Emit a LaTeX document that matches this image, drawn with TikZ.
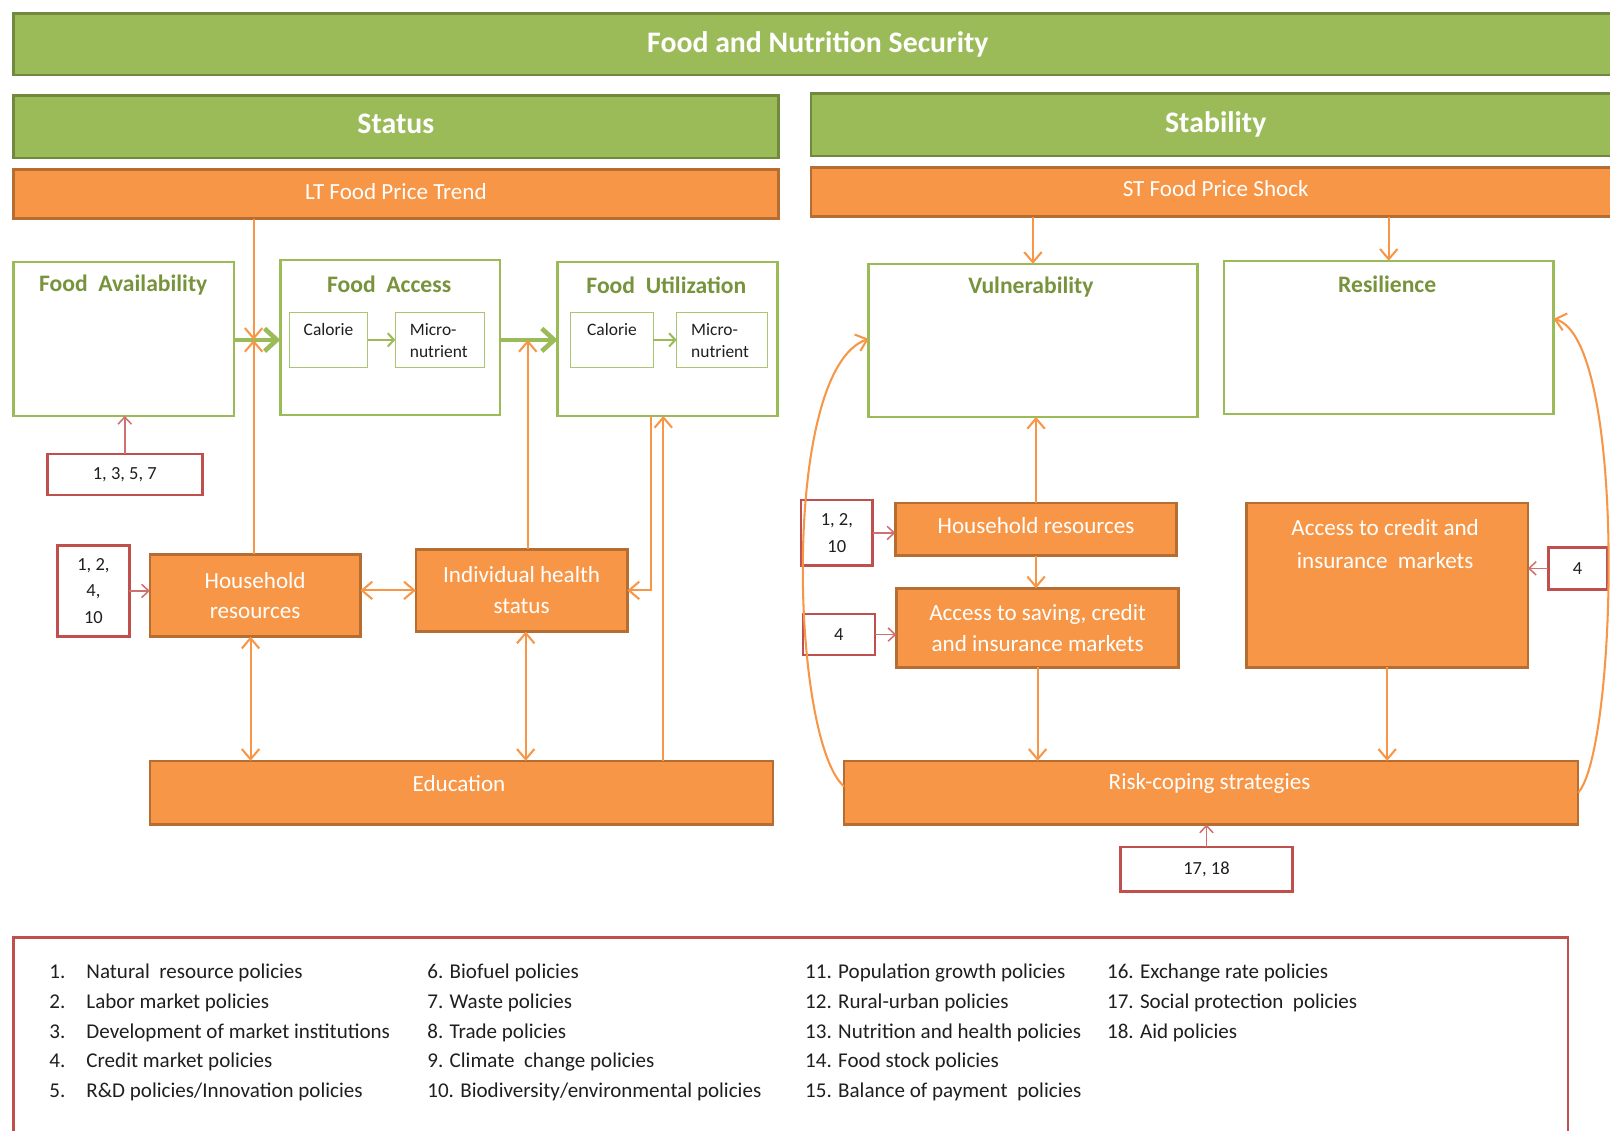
\documentclass[tikz,border=0pt]{standalone}
\usepackage{fontspec}
\setmainfont{Carlito}
\usetikzlibrary{arrows.meta}
\definecolor{gfill}{HTML}{9BBB59}
\definecolor{gdark}{HTML}{71893F}
\definecolor{ofill}{HTML}{F79646}
\definecolor{odark}{HTML}{B66D31}
\definecolor{rbox}{HTML}{C0504D}
\definecolor{gtext}{HTML}{77933C}
\definecolor{rline}{HTML}{D07070}
\definecolor{ink}{HTML}{1F1F1F}
\tikzset{
 box/.style={anchor=north west, inner sep=0pt, outer sep=0pt, rectangle},
 gbar/.style={box, fill=gfill, draw=gdark, line width=2.5pt, text=white, font=\fontsize{29}{34}\selectfont\bfseries},
 obar/.style={box, fill=ofill, draw=odark, line width=2.5pt, text=white, font=\fontsize{22.5}{30}\selectfont, align=center},
 gbox/.style={box, draw=gfill, line width=2.5pt, fill=white},
 ibox/.style={box, draw=gfill!85, line width=1pt, fill=white},
 rbx/.style={box, draw=rbox, line width=2.5pt, fill=white, text=ink, font=\fontsize{18}{26}\selectfont, align=center},
 gtitle/.style={inner sep=0pt, text=gtext, font=\fontsize{23}{28}\selectfont\bfseries},
 otext/.style={inner sep=0pt, text=white, font=\fontsize{22.5}{30}\selectfont, align=center},
 itext/.style={inner sep=0pt, text=ink, font=\fontsize{17}{21}\selectfont, align=left},
 leg/.style={inner sep=0pt, anchor=base west, text=ink, font=\fontsize{20.5}{24}\selectfont},
 oarr/.style={draw=ofill, line width=2pt, -{Straight Barb[length=10pt,width=17pt]}},
 oarrb/.style={draw=ofill, line width=2pt, {Straight Barb[length=10pt,width=17pt]}-{Straight Barb[length=10pt,width=17pt]}},
 garr/.style={draw=gfill, line width=4.5pt, -{Straight Barb[length=12pt,width=22pt]}},
 giarr/.style={draw=gfill, line width=2pt, -{Straight Barb[length=6pt,width=13pt]}},
 rarr/.style={draw=rline, line width=1.5pt, -{Straight Barb[length=7pt,width=13pt]}}
}
\begin{document}
\begin{tikzpicture}[x=1pt,y=-1pt]
\clip (0,0) rectangle (1568,1101);
\fill[white] (0,0) rectangle (1568,1101);
% headers
\node[gbar, minimum width=1567pt, minimum height=60pt] (fns) at (13,13) {Food and Nutrition Security};
\node[gbar, minimum width=745pt, minimum height=61pt, text depth=6pt] (status) at (13,93) {Status};
\node[gbar, minimum width=788pt, minimum height=61pt] (stab) at (790,91) {Stability};
\node[obar, minimum width=745pt, minimum height=48pt, text depth=6pt] (lt) at (13,165) {LT Food Price Trend};
\node[obar, minimum width=788pt, minimum height=48pt, text depth=6pt] (st) at (790,163) {ST Food Price Shock};
% status side boxes
\node[gbox, minimum width=215pt, minimum height=150pt] (fa) at (13,255) {};
\node[gbox, minimum width=214pt, minimum height=151pt] (facc) at (273,253) {};
\node[gbox, minimum width=214pt, minimum height=150pt] (fu) at (543,255) {};
\node[gtitle] (fat) at (120,278) {Food\ \ Availability};
\node[gtitle] (facct) at (379,277) {Food\ \ Access};
\node[gtitle] (fut) at (649,278) {Food\ \ Utilization};
\node[ibox, minimum width=76pt, minimum height=54pt] (cal1) at (282,304) {};
\node[ibox, minimum width=87pt, minimum height=54pt] (mic1) at (385,304) {};
\node[ibox, minimum width=80pt, minimum height=54pt] (cal2) at (556,304) {};
\node[ibox, minimum width=88pt, minimum height=54pt] (mic2) at (659,304) {};
\node[itext] (cal1t) at (320,321) {Calorie};
\node[itext, anchor=north west] (mic1t) at (399,315) {Micro-\\nutrient};
\node[itext] (cal2t) at (596,321) {Calorie};
\node[itext, anchor=north west] (mic2t) at (673,315) {Micro-\\nutrient};
\node[obar, minimum width=205pt, minimum height=80pt] (hrl) at (146,540) {Household\\resources};
\node[obar, minimum width=206pt, minimum height=80pt] (ihs) at (405,535) {Individual health\\status};
\node[obar, minimum width=607pt, minimum height=62pt] (edu) at (146,741) {};
\node[otext] (edut) at (447,763) {Education};
\node[rbx, minimum width=151pt, minimum height=40pt] (r1357) at (46,442) {1, 3, 5, 7};
\node[rbx, minimum width=70pt, minimum height=89pt] (r12410) at (56,531) {1, 2,\\4,\\10};
% stability side boxes
\node[gbox, minimum width=320pt, minimum height=149pt] (vul) at (846,257) {};
\node[gbox, minimum width=321pt, minimum height=149pt] (res) at (1192,254) {};
\node[gtitle] (vult) at (1004,280) {Vulnerability};
\node[gtitle] (rest) at (1351,277) {Resilience};
\node[obar, minimum width=274pt, minimum height=51pt, text depth=7pt] (hrr) at (872,490) {Household resources};
\node[obar, minimum width=275pt, minimum height=77pt] (asc) at (873,573) {Access to saving, credit\\and insurance markets};
\node[obar, minimum width=274pt, minimum height=160pt] (aci) at (1214,490) {};
\node[otext, font=\fontsize{22.5}{32}\selectfont] (acit) at (1349,530) {Access to credit and\\insurance\ \ markets};
\node[rbx, minimum width=57pt, minimum height=41pt] (r4r) at (1508,533) {4};
\node[obar, minimum width=715pt, minimum height=62pt] (rc) at (822,741) {};
\node[otext] (rct) at (1178,763) {Risk-coping strategies};
\node[rbx, minimum width=70pt, minimum height=64pt] (r1210) at (780,487) {1, 2,\\10};
\node[rbx, minimum width=70pt, minimum height=40pt] (r4l) at (782,598) {4};
\node[rbx, minimum width=168pt, minimum height=43pt] (r1718) at (1091,825) {17, 18};
% junction coordinates
\coordinate (j1) at (247,331);
\coordinate (j2) at (514,331);
\coordinate (k1) at (634,575);
\coordinate (k2) at (646,600);
\coordinate (m1) at (244,680);
\coordinate (m2) at (512,680);
% green arrows
\draw[garr] (fa.east |- j1) -- (facc.west |- j1);
\draw[garr] (facc.east |- j1) -- (fu.west |- j1);
\draw[giarr] (cal1.east) -- (mic1.west);
\draw[giarr] (cal2.east) -- (mic2.west);
% orange connectors, status side
\draw[oarr] (lt.south -| j1) -- (j1);
\draw[oarr] (hrl.north -| j1) -- (j1);
\draw[oarr] (ihs.north -| j2) -- (j2);
\draw[oarr] (fu.south -| k1) -- (k1) -- (ihs.east |- k1);
\draw[oarr] (edu.north -| k2) -- (fu.south -| k2);
\draw[oarrb] (hrl.east |- k1) -- (ihs.west |- k1);
\draw[oarrb] (hrl.south -| m1) -- (edu.north -| m1);
\draw[oarrb] (ihs.south -| m2) -- (edu.north -| m2);
\draw[rarr] (r1357.north) -- (fa.south -| r1357.north);
\draw[rarr] (r12410.east) -- (hrl.west |- r12410.east);
% orange connectors, stability side
\draw[oarr] (st.south -| vul.north) -- (vul.north);
\draw[oarr] (st.south -| res.north) -- (res.north);
\draw[oarr] (hrr.north) -- (vul.south -| hrr.north);
\draw[oarr] (hrr.south) -- (asc.north -| hrr.south);
\draw[oarr] (asc.south) -- (rc.north -| asc.south);
\draw[oarr] (aci.south) -- (rc.north -| aci.south);
\draw[rarr] (r1210.east) -- (hrr.west |- r1210.east);
\draw[rarr] (r4l.east) -- (asc.west |- r4l.east);
\draw[rarr] (r4r.west) -- (aci.east |- r4r.west);
\draw[rarr] (r1718.north) -- (rc.south -| r1718.north);
\draw[oarr] ([yshift=6pt]rc.west) .. controls (770,720) and (760,360) .. ([yshift=1.5pt]vul.west);
\draw[oarr] (rc.east) .. controls (1575,730) and (1585,330) .. ([yshift=18pt]res.east);
% legend
\node[box, draw=rbox, line width=2.5pt, minimum width=1514pt, minimum height=200pt] (legend) at (13,913) {};
\node[leg] (n1) at (48,953) {1.};
\node[leg] (t1) at (84,953) {Natural\ \ resource policies};
\node[leg] (n2) at (48,982) {2.};
\node[leg] (t2) at (84,982) {Labor market policies};
\node[leg] (n3) at (48,1011) {3.};
\node[leg] (t3) at (84,1011) {Development of market institutions};
\node[leg] (n4) at (48,1040) {4.};
\node[leg] (t4) at (84,1040) {Credit market policies};
\node[leg] (n5) at (48,1069) {5.};
\node[leg] (t5) at (84,1069) {R\&D policies/Innovation policies};
\node[leg] (t6) at (416,953) {6. Biofuel policies};
\node[leg] (t7) at (416,982) {7. Waste policies};
\node[leg] (t8) at (416,1011) {8. Trade policies};
\node[leg] (t9) at (416,1040) {9. Climate\ \ change policies};
\node[leg] (t10) at (416,1069) {10. Biodiversity/environmental policies};
\node[leg] (t11) at (784,953) {11. Population growth policies};
\node[leg] (t12) at (784,982) {12. Rural-urban policies};
\node[leg] (t13) at (784,1011) {13. Nutrition and health policies};
\node[leg] (t14) at (784,1040) {14. Food stock policies};
\node[leg] (t15) at (784,1069) {15. Balance of payment\ \ policies};
\node[leg] (t16) at (1078,953) {16. Exchange rate policies};
\node[leg] (t17) at (1078,982) {17. Social protection\ \ policies};
\node[leg] (t18) at (1078,1011) {18. Aid policies};
\end{tikzpicture}
\end{document}
